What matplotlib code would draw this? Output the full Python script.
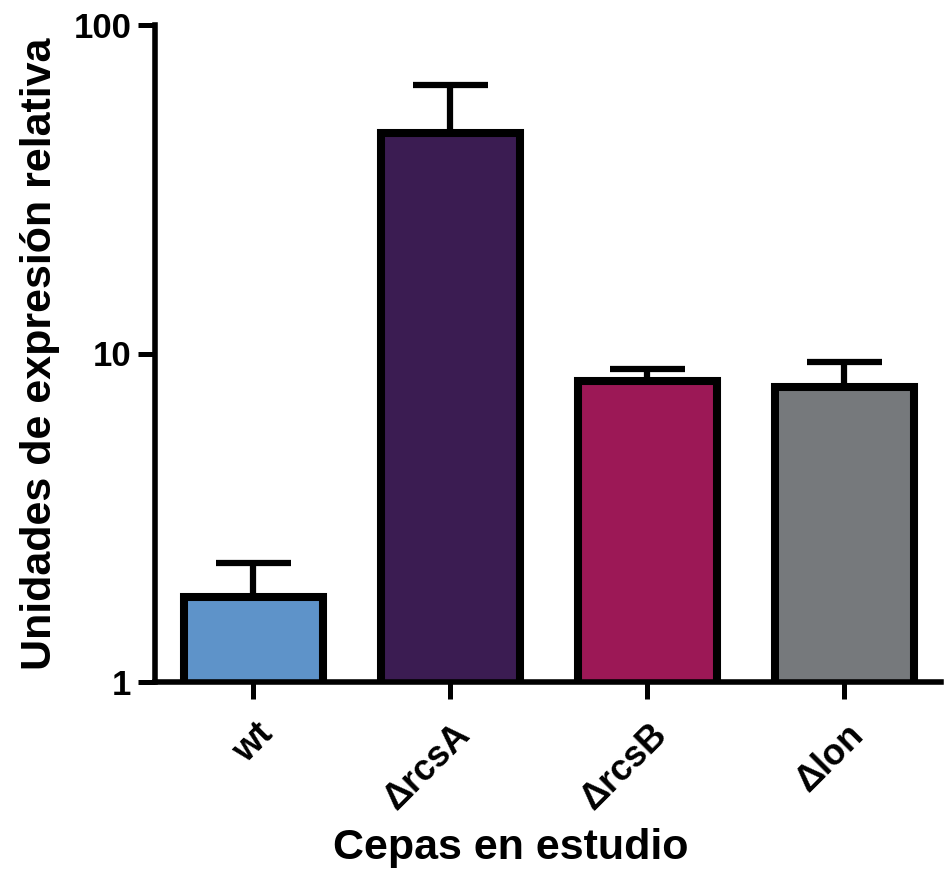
import matplotlib
matplotlib.use("Agg")
import matplotlib.pyplot as plt
import matplotlib.transforms as mtransforms
import numpy as np

categories = ["wt", "\u0394rcsA", "\u0394rcsB", "\u0394lon"]
values = [1.82, 46.9, 8.22, 7.88]
err_upper = [0.49, 18.7, 0.78, 1.57]
colors = ["#5E93C9", "#3B1C52", "#9C1856", "#76797C"]

plt.rcParams['font.family'] = ['Liberation Sans', 'DejaVu Sans']

fig = plt.figure(figsize=(9.44, 8.77), dpi=100)
ax = fig.add_axes([155/944, 1-682/877, (941-155)/944, (682-25)/877])

x = np.arange(len(categories))
ax.set_yscale('log')
ax.errorbar(x, values, yerr=[np.zeros(len(values)), err_upper], fmt='none',
            ecolor='black', elinewidth=4.5, capsize=27, capthick=4.5, zorder=1)
ax.bar(x, values, width=0.71, color=colors, edgecolor='black', linewidth=5.8, zorder=2)

ax.set_ylim(1, 100)
ax.set_xlim(-0.5, 3.49)
ax.set_yticks([1, 10, 100])
ax.set_yticklabels(["1", "10", "100"])
ax.yaxis.set_minor_locator(matplotlib.ticker.NullLocator())
ax.set_xticks(x)
ax.set_xticklabels(categories, rotation=45, ha='right', va='center', rotation_mode='anchor')

for s in ['top', 'right']:
    ax.spines[s].set_visible(False)
for s in ['left', 'bottom']:
    ax.spines[s].set_linewidth(4)
ax.tick_params(axis='both', length=12, width=3.6, pad=6)
ax.tick_params(axis='y', labelsize=25, pad=5)
ax.tick_params(axis='x', labelsize=26, pad=22)
offset = mtransforms.ScaledTranslation(14/100, 0, fig.dpi_scale_trans)
for lab in ax.get_xticklabels():
    lab.set_fontweight('bold')
    lab.set_transform(lab.get_transform() + offset)
for lab in ax.get_yticklabels():
    lab.set_fontweight('bold')

ax.set_ylabel("Unidades de expresión relativa", fontsize=31, fontweight='bold', labelpad=10)
ax.set_xlabel("Cepas en estudio", fontsize=31, fontweight='bold')
ax.xaxis.set_label_coords(0.452, -0.222)

fig.savefig("out.png", dpi=100)
